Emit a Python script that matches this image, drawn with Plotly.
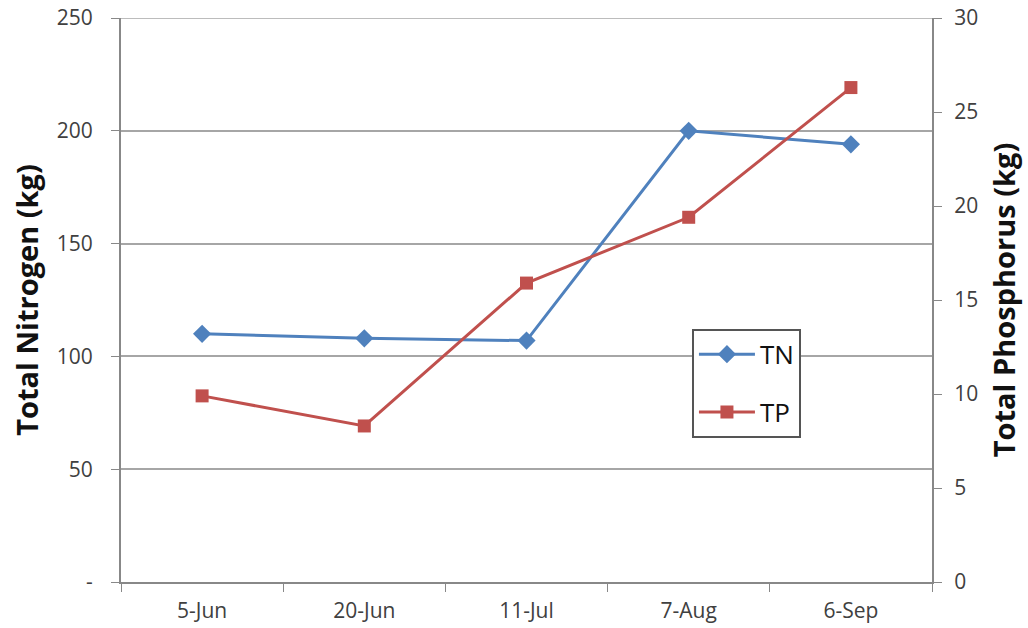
import plotly.graph_objects as go

dates = ["5-Jun", "20-Jun", "11-Jul", "7-Aug", "6-Sep"]
tn = [110, 108, 107, 200, 194]
tp = [9.9, 8.3, 15.9, 19.4, 26.3]
left_ticks = [0, 50, 100, 150, 200, 250]
left_labels = ["-", "50", "100", "150", "200", "250"]
right_ticks = [0, 5, 10, 15, 20, 25, 30]

FONT = "'Open Sans', sans-serif"
TICKC = "#404040"
GRID = "#a6a6a6"
fig = go.Figure()
fig.add_trace(go.Scatter(x=dates, y=tn, name="TN", mode="lines+markers", legendgroup="a",
                         line=dict(color="#4F81BD", width=3),
                         marker=dict(symbol="diamond", size=14, color="#4F81BD")))
fig.add_trace(go.Scatter(x=dates, y=tp, name="TP", mode="lines+markers", yaxis="y2", legendgroup="b",
                         line=dict(color="#C0504D", width=3),
                         marker=dict(symbol="square", size=13, color="#C0504D")))

# top gridline at the edge of the plot area
fig.add_shape(type="line", xref="paper", x0=0, x1=1, yref="y", y0=left_ticks[-1], y1=left_ticks[-1],
              line=dict(color=GRID, width=1.5), layer="below")

fig.update_layout(
    width=1028, height=628,
    margin=dict(l=121, r=96, t=18, b=46),
    paper_bgcolor="white", plot_bgcolor="white",
    font=dict(family=FONT, color=TICKC),
    xaxis=dict(type="category", range=[-0.5, 4.5], showgrid=False, automargin=False,
               showline=True, linecolor="#888", linewidth=2,
               ticks="outside", tickson="boundaries", ticklen=8, tickcolor="#888",
               ticklabelstandoff=9, ticklabeloverflow="allow",
               tickfont=dict(size=21, color=TICKC)),
    yaxis=dict(range=[0, 250], tickvals=left_ticks, ticktext=left_labels, automargin=False,
               showgrid=True, gridcolor=GRID, gridwidth=1.5,
               showline=True, linecolor="#888", linewidth=2,
               ticks="outside", ticklen=8, tickcolor="#888",
               ticklabelstandoff=14, ticklabeloverflow="allow",
               tickfont=dict(size=21, color=TICKC), zeroline=False,
               title=dict(text="<b>Total Nitrogen (kg)</b>", font=dict(size=29, color="#111"), standoff=10)),
    yaxis2=dict(range=[0, 30], tickvals=right_ticks, overlaying="y", side="right", automargin=False,
                showgrid=False, showline=True, linecolor="#888", linewidth=2,
                ticks="outside", ticklen=8, tickcolor="#888",
                ticklabelstandoff=8, ticklabeloverflow="allow",
                tickfont=dict(size=21, color=TICKC), zeroline=False,
                title=dict(text="<b>Total Phosphorus (kg)</b>", font=dict(size=29, color="#111"), standoff=17)),
    legend=dict(x=0.704, y=0.449, xanchor="left", yanchor="top",
                bordercolor="#555", borderwidth=2, bgcolor="white",
                font=dict(size=26, color="#111"), itemwidth=56,
                traceorder="grouped", tracegroupgap=21),
    showlegend=True,
)
fig.write_html("out.html", config={"displayModeBar": False},
               post_script="document.body.style.margin='0';document.body.style.overflow='hidden';")
